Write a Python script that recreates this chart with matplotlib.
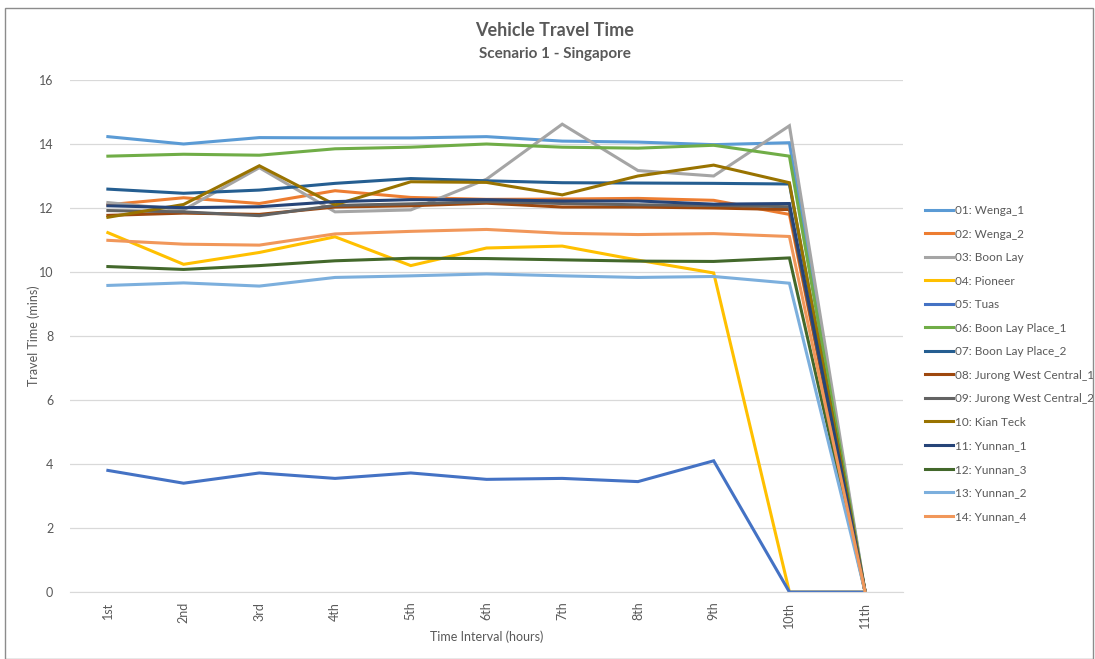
import matplotlib.pyplot as plt
import matplotlib.patches as patches

intervals = ['1st', '2nd', '3rd', '4th', '5th', '6th', '7th', '8th', '9th', '10th', '11th']

wenga_1 = [14.23, 14.0, 14.2, 14.19, 14.19, 14.23, 14.09, 14.06, 13.98, 14.04, 0]
wenga_2 = [12.1, 12.32, 12.14, 12.54, 12.33, 12.27, 12.28, 12.3, 12.24, 11.8, 0]
boon_lay = [12.17, 11.94, 13.26, 11.88, 11.94, 12.9, 14.62, 13.17, 13.0, 14.57, 0]
pioneer = [11.23, 10.24, 10.61, 11.1, 10.2, 10.75, 10.81, 10.37, 9.97, 0, 0]
tuas = [3.8, 3.4, 3.72, 3.55, 3.72, 3.52, 3.55, 3.45, 4.1, 0, 0]
boon_lay_place_1 = [13.62, 13.68, 13.65, 13.85, 13.9, 14.0, 13.9, 13.87, 13.96, 13.62, 0]
boon_lay_place_2 = [12.59, 12.46, 12.56, 12.77, 12.92, 12.85, 12.79, 12.78, 12.77, 12.75, 0]
jurong_wc_1 = [11.77, 11.84, 11.8, 12.03, 12.07, 12.15, 12.03, 12.03, 12.0, 11.95, 0]
jurong_wc_2 = [11.92, 11.88, 11.76, 12.08, 12.13, 12.2, 12.14, 12.1, 12.08, 12.04, 0]
kian_teck = [11.71, 12.11, 13.32, 12.1, 12.82, 12.8, 12.41, 13.0, 13.34, 12.79, 0]
yunnan_1 = [12.07, 12.01, 12.04, 12.2, 12.26, 12.26, 12.22, 12.22, 12.12, 12.14, 0]
yunnan_3 = [10.17, 10.08, 10.2, 10.35, 10.43, 10.42, 10.38, 10.34, 10.33, 10.44, 0]
yunnan_2 = [9.58, 9.66, 9.56, 9.83, 9.88, 9.94, 9.88, 9.83, 9.86, 9.65, 0]
yunnan_4 = [10.99, 10.87, 10.84, 11.19, 11.27, 11.33, 11.21, 11.17, 11.2, 11.11, 0]

series_names = ['01: Wenga_1', '02: Wenga_2', '03: Boon Lay', '04: Pioneer', '05: Tuas',
                '06: Boon Lay Place_1', '07: Boon Lay Place_2', '08: Jurong West Central_1',
                '09: Jurong West Central_2', '10: Kian Teck', '11: Yunnan_1', '12: Yunnan_3',
                '13: Yunnan_2', '14: Yunnan_4']
series_values = [wenga_1, wenga_2, boon_lay, pioneer, tuas, boon_lay_place_1, boon_lay_place_2,
                 jurong_wc_1, jurong_wc_2, kian_teck, yunnan_1, yunnan_3, yunnan_2, yunnan_4]
colors = ['#5B9BD5', '#ED7D31', '#A5A5A5', '#FFC000', '#4472C4', '#70AD47', '#255E91',
          '#9E480E', '#636363', '#997300', '#264478', '#43682B', '#7CAFDD', '#F1975A']

plt.rcParams['font.family'] = ['Lato', 'DejaVu Sans']
text_color = '#595959'

W, H = 1095, 659
fig = plt.figure(figsize=(W / 100, H / 100), dpi=100)
ax = fig.add_axes([70 / W, 1 - 592 / H, 833 / W, 512 / H])

x = list(range(len(intervals)))
for name, vals, c in zip(series_names, series_values, colors):
    ax.plot(x, vals, color=c, lw=2.2, label=name, solid_joinstyle='miter')

ax.set_xlim(-0.5, len(intervals) - 0.5)
ax.set_ylim(0, 16)
ax.set_yticks(range(0, 17, 2))
ax.set_xticks(x)
ax.set_xticklabels(intervals, rotation=90)
ax.grid(axis='y', color='#d9d9d9', lw=0.9)
ax.set_axisbelow(True)
for s in ['left', 'right', 'top']:
    ax.spines[s].set_visible(False)
ax.spines['bottom'].set_color('#d9d9d9')
ax.tick_params(axis='both', length=0, colors=text_color, labelsize=9)
ax.tick_params(axis='y', pad=12)
ax.tick_params(axis='x', pad=7)
ax.set_ylabel('Travel Time (mins)', color=text_color, fontsize=9, labelpad=-1)
ax.set_xlabel('Time Interval (hours)', color=text_color, fontsize=9, labelpad=2)

fig.text(555 / W, 1 - 31 / H, 'Vehicle Travel Time', ha='center', va='center',
         fontsize=13, fontweight='bold', color=text_color)
fig.text(555 / W, 1 - 54 / H, 'Scenario 1 - Singapore', ha='center', va='center',
         fontsize=11, fontweight='bold', color=text_color)

leg = ax.legend(loc='upper left', bbox_to_anchor=(925 / W, 1 - 205 / H),
                bbox_transform=fig.transFigure, frameon=False, fontsize=8.5,
                borderpad=0, borderaxespad=0, handlelength=2.4, handletextpad=0.15,
                labelspacing=1.06)
for t in leg.get_texts():
    t.set_color(text_color)

# chart border
fig.add_artist(patches.Rectangle((5 / W, 0), 1088 / W, 1 - 8 / H, transform=fig.transFigure,
                                 fill=False, edgecolor='#8c8c8c', lw=1))

fig.savefig('out.png', dpi=100)
